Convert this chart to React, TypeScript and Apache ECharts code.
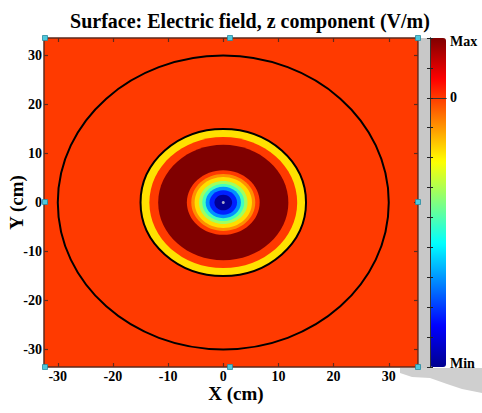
import React, { useEffect, useRef } from "react";
import * as echarts from "echarts";

// ---- data ----
const xTicks = [-30, -20, -10, 0, 10, 20, 30];
const yTicks = [-30, -20, -10, 0, 10, 20, 30];
const xRange = [-32.5, 35.3];
const yRange = [-33.6, 33.6];
// filled contour bands (outer radius in cm, field level), drawn outside-in
const ringRadius = [100, 15, 13.4, 11.8, 6.6, 5.8, 5.2, 4.4, 3.8, 3.2, 2.5, 1.6];
const ringValue = [0, -0.9, 0, 1.0, 0, -0.46, -0.88, -1.58, -2.09, -3.04, -3.64, -4.45];
// black contour lines (radius, cm)
const contourRadius = [30, 15];
// colour bar
const cbMin = -4.5;
const cbMax = 1;
const cbLabels = ["Max", "0", "Min"];
const cbLabelValues = [1, 0, -4.5];
const jet = ["#00008F", "#0000FF", "#0080FF", "#00FFFF", "#80FF80", "#FFFF00", "#FF8000", "#FF0000", "#800000"];

const FONT = "'Liberation Serif', 'Times New Roman', serif";

export default function App() {
  const ref = useRef<HTMLDivElement>(null);
  useEffect(() => {
    document.body.style.margin = "0";
    if (!ref.current) return;
    const chart = echarts.init(ref.current, null, { renderer: "svg" });

    const plot = { left: 44, top: 38, width: 374, height: 329 };
    const cb = { left: 430, top: 38, width: 16, height: 329 };
    const borderColor = "#5e2a1c";

    const cbLabelGraphics = cbLabels.map((t, i) => {
      let y = cb.top + ((cbMax - cbLabelValues[i]) / (cbMax - cbMin)) * cb.height;
      if (i === 0) y += 3;
      if (i === cbLabels.length - 1) y -= 4;
      return {
        type: "text",
        x: 450,
        y,
        z: 50,
        style: { text: t, fill: "#000", font: `bold 14px ${FONT}`, textVerticalAlign: "middle" },
      };
    });

    const handlePos: number[][] = [];
    [45, 230, 418].forEach((x) =>
      [38, 202, 367].forEach((y) => {
        if (!(x === 230 && y === 202)) handlePos.push([x, y]);
      })
    );

    const axisCommon = {
      type: "value" as const,
      axisLine: { show: true, onZero: false, lineStyle: { color: borderColor, width: 1.5 } },
      splitLine: { show: false },
      z: 10,
    };

    chart.setOption({
      animation: false,
      backgroundColor: "#fff",
      title: {
        text: "Surface: Electric field, z component (V/m)",
        left: 245,
        top: 6,
        textAlign: "center",
        textStyle: { fontFamily: FONT, fontSize: 20, fontWeight: "bold", color: "#000" },
      },
      grid: [
        { ...plot, outerBoundsMode: "none" },
        { ...cb, outerBoundsMode: "none" },
      ],
      xAxis: [
        {
          ...axisCommon,
          gridIndex: 0,
          position: "bottom",
          min: xRange[0],
          max: xRange[1],
          name: "X (cm)",
          nameLocation: "middle",
          nameGap: 17,
          nameMoveOverlap: false,
          nameTextStyle: { fontFamily: FONT, fontSize: 19, fontWeight: "bold", color: "#000", padding: [0, 0, 0, 10] },
          axisTick: { show: true, inside: true, length: 4, customValues: xTicks, lineStyle: { color: borderColor, width: 1.2 } },
          axisLabel: { show: true, customValues: xTicks, margin: 2, fontFamily: FONT, fontSize: 14, fontWeight: "bold", color: "#000" },
        },
        {
          ...axisCommon,
          gridIndex: 0,
          position: "top",
          min: xRange[0],
          max: xRange[1],
          axisTick: { show: true, inside: true, length: 4, customValues: xTicks, lineStyle: { color: borderColor, width: 1.2 } },
          axisLabel: { show: false },
        },
        {
          ...axisCommon,
          gridIndex: 1,
          position: "bottom",
          min: 0,
          max: 1,
          axisLine: { show: true, lineStyle: { color: "#333", width: 1 } },
          axisTick: { show: false },
          axisLabel: { show: false },
        },
        {
          ...axisCommon,
          gridIndex: 1,
          position: "top",
          min: 0,
          max: 1,
          axisLine: { show: true, lineStyle: { color: "#333", width: 1 } },
          axisTick: { show: false },
          axisLabel: { show: false },
        },
      ],
      yAxis: [
        {
          ...axisCommon,
          gridIndex: 0,
          position: "left",
          min: yRange[0],
          max: yRange[1],
          name: "Y (cm)",
          nameLocation: "middle",
          nameGap: 18,
          nameMoveOverlap: false,
          nameTextStyle: { fontFamily: FONT, fontSize: 19, fontWeight: "bold", color: "#000" },
          axisTick: { show: true, inside: true, length: 4, customValues: yTicks, lineStyle: { color: borderColor, width: 1.2 } },
          axisLabel: { show: true, customValues: yTicks, margin: 2, fontFamily: FONT, fontSize: 14, fontWeight: "bold", color: "#000" },
        },
        {
          ...axisCommon,
          gridIndex: 0,
          position: "right",
          min: yRange[0],
          max: yRange[1],
          axisTick: { show: true, inside: true, length: 4, customValues: yTicks, lineStyle: { color: borderColor, width: 1.2 } },
          axisLabel: { show: false },
        },
        {
          ...axisCommon,
          gridIndex: 1,
          position: "left",
          min: cbMin,
          max: cbMax,
          interval: 0.5,
          axisLine: { show: true, lineStyle: { color: "#333", width: 1 } },
          axisTick: { show: true, inside: true, length: 3, lineStyle: { color: "#222", width: 1 } },
          axisLabel: { show: false },
        },
        {
          ...axisCommon,
          gridIndex: 1,
          position: "right",
          min: cbMin,
          max: cbMax,
          interval: 0.5,
          axisLine: { show: true, lineStyle: { color: "#333", width: 1 } },
          axisTick: { show: true, inside: true, length: 3, lineStyle: { color: "#222", width: 1 } },
          axisLabel: { show: false },
        },
      ],
      visualMap: {
        type: "continuous",
        seriesIndex: 0,
        dimension: 1,
        min: cbMin,
        max: cbMax,
        calculable: false,
        hoverLink: false,
        orient: "vertical",
        left: cb.left,
        top: cb.top,
        padding: 0,
        itemWidth: cb.width,
        itemHeight: cb.height,
        text: null,
        showLabel: false,
        inRange: { color: jet },
      },
      graphic: [
        { type: "rect", shape: { x: 419, y: 38, width: 11, height: 331 }, style: { fill: "#C8C8C8" }, z: 1 },
        {
          type: "polygon",
          shape: { points: [[400, 368], [482, 368], [482, 393], [462, 389], [447, 384], [430, 378], [412, 377], [400, 373]] },
          style: { fill: "#CFCFCF" },
          z: 1,
        },
        ...cbLabelGraphics,
        ...handlePos.map((p) => ({
          type: "rect",
          shape: { x: p[0] - 2.5, y: p[1] - 2.5, width: 5, height: 5 },
          style: { fill: "#4FC8DC", stroke: "#2a8aa0", lineWidth: 0.8 },
          z: 100,
        })),
      ],
      series: [
        {
          type: "custom",
          xAxisIndex: 0,
          yAxisIndex: 0,
          clip: true,
          data: ringRadius.map((r, i) => [r, ringValue[i]]),
          renderItem: (params: any, api: any) => {
            const c = api.coord([0, 0]);
            const r = api.value(0);
            const s = api.size([r, r]);
            return {
              type: "ellipse",
              shape: { cx: c[0], cy: c[1], rx: s[0], ry: s[1] },
              style: { fill: api.visual("color") },
            };
          },
        },
        {
          type: "custom",
          xAxisIndex: 0,
          yAxisIndex: 0,
          clip: true,
          data: contourRadius.map((r) => [r, 0]),
          renderItem: (params: any, api: any) => {
            const c = api.coord([0, 0]);
            const r = api.value(0);
            const s = api.size([r, r]);
            return {
              type: "ellipse",
              shape: { cx: c[0], cy: c[1], rx: s[0], ry: s[1] },
              style: { fill: "none", stroke: "#000", lineWidth: 2 },
            };
          },
        },
        {
          type: "scatter",
          xAxisIndex: 0,
          yAxisIndex: 0,
          symbolSize: 3,
          itemStyle: { color: "#d8d8d8" },
          data: [[0, 0]],
          silent: true,
        },
      ],
    });
    return () => chart.dispose();
  }, []);
  return <div ref={ref} style={{ width: 482, height: 413 }} />;
}
